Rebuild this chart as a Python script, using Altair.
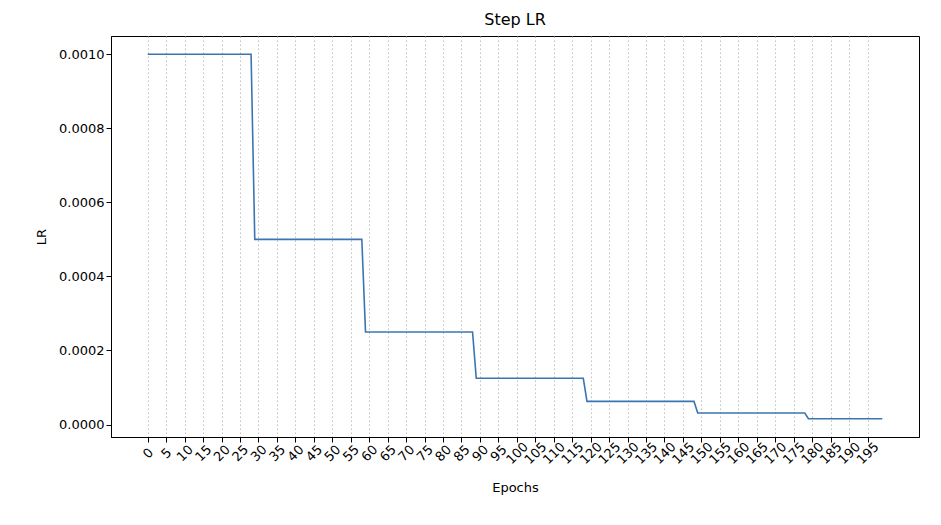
import altair as alt
import pandas as pd

# corner points of the step schedule
epochs = [0, 28, 29, 58, 59, 88, 89, 118, 119, 148, 149, 178, 179, 199]
lrs = [0.001, 0.001, 0.0005, 0.0005, 0.00025, 0.00025, 0.000125, 0.000125,
       0.0000625, 0.0000625, 0.00003125, 0.00003125, 0.000015625, 0.000015625]
x_ticks = list(range(0, 200, 5))
y_ticks = [0.0, 0.0002, 0.0004, 0.0006, 0.0008, 0.0010]

df = pd.DataFrame({"Epochs": epochs, "LR": lrs})

FONT = "DejaVu Sans"

chart = alt.Chart(df).mark_line(color="#3b75b1", strokeWidth=1.6).encode(
    x=alt.X("Epochs:Q",
            scale=alt.Scale(domain=[-9.95, 208.95], nice=False, zero=False),
            axis=alt.Axis(values=x_ticks, labelAngle=-45, labelAlign="center",
                          labelBaseline="middle", labelPadding=11,
                          grid=True, gridDash=[1.5, 2.5], gridColor="#b8b8b8",
                          gridWidth=0.9, title="Epochs", titlePadding=15,
                          labelOverlap=False)),
    y=alt.Y("LR:Q",
            scale=alt.Scale(domain=[-0.0000336, 0.00104925], nice=False, zero=False),
            axis=alt.Axis(values=y_ticks, format=".4f", grid=False, title="LR",
                          titlePadding=10)),
).properties(
    width=808, height=401,
    title=alt.TitleParams("Step LR", fontSize=16, font=FONT, fontWeight="normal",
                          color="black", offset=8),
    autosize=alt.AutoSizeParams(type="none"),
    padding={"left": 103, "top": 28, "right": 12, "bottom": 70},
).configure_axis(
    labelFont=FONT, titleFont=FONT, labelFontSize=13, titleFontSize=13,
    titleFontWeight="normal", labelColor="black", titleColor="black",
    domainColor="black", tickColor="black", tickSize=5, domainWidth=1,
).configure_view(
    stroke="black", strokeWidth=1,
)

chart.save("out.html", embed_options={"renderer": "svg", "actions": False})
